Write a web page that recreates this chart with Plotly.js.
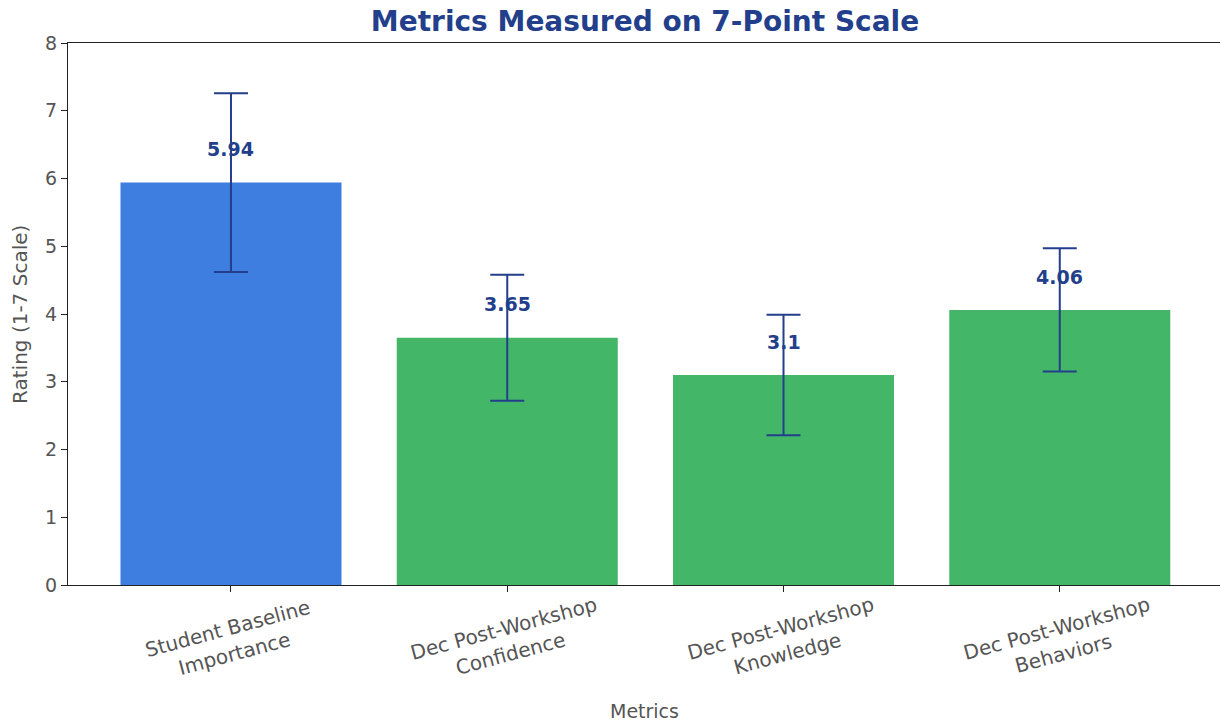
<!DOCTYPE html>
<html>
<head>
<meta charset="utf-8">
<script src="https://cdn.plot.ly/plotly-3.0.1.min.js"></script>
<style>html,body{margin:0;padding:0;background:#fff;}#chart{width:1220px;height:723px;}</style>
</head>
<body>
<div id="chart"></div>
<script>
const categories = ["Student Baseline<br>Importance", "Dec Post-Workshop<br>Confidence", "Dec Post-Workshop<br>Knowledge", "Dec Post-Workshop<br>Behaviors"];
const means = [5.94, 3.65, 3.1, 4.06];
const errors = [1.32, 0.93, 0.89, 0.91];
const barColors = ["#3d7ee0", "#44b668", "#44b668", "#44b668"];
const labelText = ["5.94", "3.65", "3.1", "4.06"];

const xIdx = categories.map((_, i) => i);
const dark = "#233f8c";
const grey = "#555";
const fam = "DejaVu Sans";

const trace = {
  type: "bar",
  x: xIdx,
  y: means,
  width: 0.8,
  marker: {color: barColors, line: {width: 0}},
  error_y: {type: "data", array: errors, visible: true, color: dark, thickness: 2, width: 17},
  hoverinfo: "skip"
};

const annotations = means.map((v, i) => ({
  x: i, y: v + 0.3, xref: "x", yref: "y",
  text: "<b>" + labelText[i] + "</b>",
  showarrow: false, yanchor: "bottom", xanchor: "center",
  font: {family: fam, size: 19, color: dark}
}));

categories.forEach((c, i) => {
  annotations.push({
    x: i, y: -0.103, xref: "x", yref: "paper",
    text: c, textangle: -15, showarrow: false,
    xanchor: "center", yanchor: "middle", align: "center",
    font: {family: fam, size: 20, color: grey}
  });
});

annotations.push({
  x: 0.5, y: -0.2325, xref: "paper", yref: "paper", text: "Metrics",
  showarrow: false, xanchor: "center", yanchor: "middle",
  font: {family: fam, size: 19, color: grey}
});
annotations.push({
  x: -0.0417, y: 0.5, xref: "paper", yref: "paper", text: "Rating (1-7 Scale)",
  textangle: -90, showarrow: false, xanchor: "center", yanchor: "middle",
  font: {family: fam, size: 20, color: grey}
});

const layout = {
  width: 1220, height: 723,
  margin: {l: 68, r: 0, t: 43, b: 138},
  paper_bgcolor: "#fff", plot_bgcolor: "#fff",
  font: {family: fam, color: grey},
  title: {text: "<b>Metrics Measured on 7-Point Scale</b>", x: 0.5287, xanchor: "center", y: 0.97, yanchor: "middle",
          font: {family: fam, size: 28, color: dark}},
  showlegend: false,
  xaxis: {
    range: [-0.59, 3.58], tickmode: "array", tickvals: xIdx, ticktext: ["", "", "", ""],
    ticks: "outside", ticklen: 6, tickcolor: "#222",
    showline: true, linecolor: "#222", linewidth: 1.2, mirror: true,
    showgrid: false, zeroline: false
  },
  yaxis: {
    range: [0, 8], dtick: 1, ticks: "outside", ticklen: 6, tickcolor: "#222",
    showline: true, linecolor: "#222", linewidth: 1.2,
    showgrid: false, zeroline: false,
    tickfont: {family: fam, size: 19, color: grey}
  },
  annotations: annotations
};

Plotly.newPlot("chart", [trace], layout, {displayModeBar: false, staticPlot: true});
</script>
</body>
</html>
